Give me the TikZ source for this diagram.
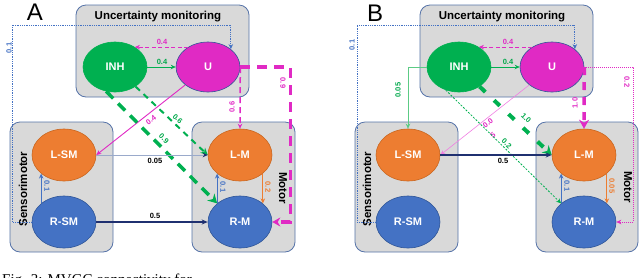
\documentclass[tikz,border=0pt]{standalone}
\usepackage{fontspec}
\setmainfont{Liberation Sans}
\newfontfamily\capfont{Liberation Serif}
\usetikzlibrary{arrows.meta,shapes.geometric,calc}
\definecolor{cgreen}{HTML}{00B050}
\definecolor{cgreenlab}{HTML}{00A84A}
\definecolor{cgreenlight}{HTML}{5CCB85}
\definecolor{cmag}{HTML}{E02AC4}
\definecolor{cmaglight}{HTML}{F07FE2}
\definecolor{corange}{HTML}{ED7D31}
\definecolor{corangedk}{HTML}{C9661F}
\definecolor{cblue}{HTML}{4472C4}
\definecolor{cnavy}{HTML}{1F3070}
\definecolor{cgrayblue}{HTML}{9AAACB}
\definecolor{boxfill}{HTML}{D9D9D9}
\definecolor{boxline}{HTML}{5673A8}
\definecolor{ellline}{HTML}{2F5597}
\tikzset{
  regionbox/.style={draw=boxline, fill=boxfill, rounded corners=10pt, line width=0.8pt},
  ell/.style={ellipse, minimum width=64pt, minimum height=52pt, inner sep=0pt,
    font=\bfseries\fontsize{11}{13}\selectfont, text=white, line width=0.6pt},
  topell/.style={ell, minimum height=50pt},
  lab/.style={font=\bfseries\fontsize{7.5}{8}\selectfont, inner sep=0.5pt, align=center},
  ttl/.style={font=\bfseries\fontsize{11.5}{13}\selectfont, inner sep=0pt},
  panel/.style={font=\fontsize{24}{26}\selectfont, inner sep=0pt},
  tipS/.style={-{Stealth[length=5pt,width=4.5pt]}},
}
\begin{document}
\begin{tikzpicture}[x=1pt,y=-1pt]
\useasboundingbox (0,0) rectangle (640,277);

% ================= Panel A =================
\node[panel] (pA) at (35,12) {A};
\draw[regionbox] (76,5) rectangle (249,97);
\draw[regionbox] (10,122) rectangle (113,252);
\draw[regionbox] (192,122) rectangle (295,252);
\node[ttl] (tUa) at (158,17) {Uncertainty monitoring};
\node[ttl, rotate=90] (tSa) at (23,189) {Sensorimotor};
\node[ttl, rotate=-90] (tMa) at (283,188) {Motor};

\node[topell, fill=cgreen, draw=cgreen] (INHa) at (115,67) {INH};
\node[topell, fill=cmag, draw=ellline] (Ua) at (208,67) {U};
\node[ell, fill=corange, draw=corangedk] (LSMa) at (64,155) {L-SM};
\node[ell, fill=cblue, draw=ellline] (RSMa) at (64,222) {R-SM};
\node[ell, fill=corange, draw=corangedk] (LMa) at (240,155) {L-M};
\node[ell, fill=cblue, draw=ellline] (RMa) at (240,222) {R-M};

\coordinate (wpA) at (12,25);
\draw[cblue, line width=0.7pt, dash pattern=on 0.8pt off 1pt, tipS] (RSMa.west) -| (wpA) -| (Ua.north east);
\node[lab, text=cblue, rotate=90] (l01a) at (9,48) {0.1};

\draw[cmag, line width=0.9pt, dash pattern=on 4pt off 2.5pt, tipS] (Ua.135) -- (INHa.45);
\node[lab, text=cmag] (l04ma) at (162,42) {0.4};
\draw[cgreen, line width=1pt, tipS] (INHa) -- (Ua);
\node[lab, text=cgreenlab] (l04ga) at (162,62) {0.4};

\draw[cmag, line width=0.9pt, tipS] (Ua) -- (LSMa.east);
\node[lab, text=cmag, rotate=37] (l04sa) at (151,120) {0.4};

\draw[cgreen, line width=2pt, dash pattern=on 6pt off 5pt, -{Stealth[length=7pt,width=7pt]}] (INHa) -- node[lab, text=cgreenlab, sloped, above=1.5pt, pos=0.53] (l06a) {0.6} (LMa.west);

\draw[cgreen, line width=3.5pt, dash pattern=on 10pt off 7pt, -{Stealth[length=9pt,width=10pt]}] (INHa.250) -- node[lab, text=cgreenlab, sloped, above=3pt, pos=0.47] (l09a) {0.9} (RMa.north west);

\draw[cmag, line width=1.5pt, dash pattern=on 6pt off 4pt, tipS] (Ua.east) -- (LMa.north);
\node[lab, text=cmag, rotate=90] (l06ma) at (232,107) {0.6};

\draw[cmag, line width=3.5pt, dash pattern=on 10pt off 7pt, -{Stealth[length=8pt,width=9pt]}] (Ua.east) -- ++(50,0) |- (RMa.east);
\node[lab, text=cmag, rotate=-90] (l09ma) at (283,83) {0.9};

\draw[cgrayblue, line width=1pt, -{Stealth[length=5pt,width=4.5pt,color=cnavy]}] (LSMa.east) -- (LMa.west);
\node[lab] (l005a) at (155,161) {0.05};
\draw[cnavy, line width=1.4pt, -{Stealth[length=6pt,width=5pt]}] (RSMa.east) -- (RMa.west);
\node[lab] (l05a) at (155,216) {0.5};

\draw[cblue, line width=0.8pt, tipS] (RSMa.north west) -- (LSMa.south west);
\node[lab, text=cblue, rotate=-90] (l01sa) at (47,186) {0.1};
\draw[cblue, line width=0.8pt, tipS] (RMa.north west) -- (LMa.south west);
\node[lab, text=cblue, rotate=-90] (l01ma) at (223,187) {0.1};
\draw[corange, line width=0.8pt, tipS] (LMa.south east) -- (RMa.north east);
\node[lab, text=corange, rotate=-90] (l02a) at (268,187) {0.2};

% ================= Panel B =================
\node[panel] (pB) at (375,13) {B};
\draw[regionbox] (420,5) rectangle (593,97);
\draw[regionbox] (355,122) rectangle (458,252);
\draw[regionbox] (536,122) rectangle (638,252);
\node[ttl] (tUb) at (502,17) {Uncertainty monitoring};
\node[ttl, rotate=90] (tSb) at (367,189) {Sensorimotor};
\node[ttl, rotate=-90] (tMb) at (628,187) {Motor};

\node[topell, fill=cgreen, draw=cgreen] (INHb) at (459,67) {INH};
\node[topell, fill=cmag, draw=ellline] (Ub) at (552,67) {U};
\node[ell, fill=corange, draw=corangedk] (LSMb) at (408,155) {L-SM};
\node[ell, fill=cblue, draw=ellline] (RSMb) at (408,222) {R-SM};
\node[ell, fill=corange, draw=corangedk] (LMb) at (584,155) {L-M};
\node[ell, fill=cblue, draw=ellline] (RMb) at (584,222) {R-M};

\coordinate (wpB) at (357,25);
\draw[cblue, line width=0.7pt, dash pattern=on 0.8pt off 1pt, tipS] (RSMb.west) -| (wpB) -| (Ub.north east);
\node[lab, text=cblue, rotate=90] (l01b) at (352,45) {0.1};

\draw[cmag, line width=0.9pt, dash pattern=on 4pt off 2.5pt, tipS] (Ub.135) -- (INHb.45);
\node[lab, text=cmag] (l04mb) at (508,42) {0.4};
\draw[cgreen, line width=1pt, tipS] (INHb) -- (Ub);
\node[lab, text=cgreenlab] (l04gb) at (508,62) {0.4};

\draw[cgreenlight, line width=0.8pt, tipS] (INHb.west) -| (LSMb.north);
\node[lab, text=cgreenlab, rotate=90] (l005gb) at (398,90) {0.05};

\draw[cmaglight, line width=0.6pt, tipS] (Ub) -- (LSMb.east);
\node[lab, text=cmag, rotate=38] (l00mb) at (488,123) {0.0};
\node[lab, text=cmag, rotate=38] (l5mb) at (493,135) {5};

\draw[cgreen, line width=4pt, dash pattern=on 8pt off 12pt, -{Stealth[length=9pt,width=10pt]}] (INHb) -- node[lab, text=cgreenlab, sloped, above=4pt, pos=0.56] (l10gb) {1.0} (LMb.west);

\draw[cgreen, line width=0.8pt, dash pattern=on 2pt off 1.5pt, tipS] (INHb.240) -- node[lab, text=cgreenlab, sloped, above=1pt, pos=0.5] (l02gb) {0.2} (RMb.north west);

\draw[cmag, line width=3.5pt, dash pattern=on 8pt off 7pt, -{Stealth[length=9pt,width=10pt]}] (Ub.east) -- (LMb.north);
\node[lab, text=cmag, rotate=90] (l10mb) at (575,103) {1.0};

\draw[cmag, line width=0.8pt, dash pattern=on 1pt off 1pt, tipS] (Ub.east) -- ++(49,0) |- (RMb.east);
\node[lab, text=cmag, rotate=-90] (l02mb) at (627,82) {0.2};

\draw[cnavy, line width=1.6pt, -{Stealth[length=6pt,width=5pt]}] (LSMb.east) -- (LMb.west);
\node[lab] (l05b) at (503,161) {0.5};

\draw[cblue, line width=0.8pt, tipS] (RMb.north west) -- (LMb.south west);
\node[lab, text=cblue, rotate=-90] (l01mb) at (567,186) {0.1};
\draw[corange, line width=0.8pt, tipS] (LMb.south east) -- (RMb.north east);
\node[lab, text=corange, rotate=-90] (l005ob) at (612,186) {0.05};

% caption (cut off at the bottom edge)
\node[anchor=base west, inner sep=0pt, font=\capfont\fontsize{15}{17}\selectfont] (cap) at (2,284) {Fig. 3: MVGC connectivity for};
\end{tikzpicture}
\end{document}
